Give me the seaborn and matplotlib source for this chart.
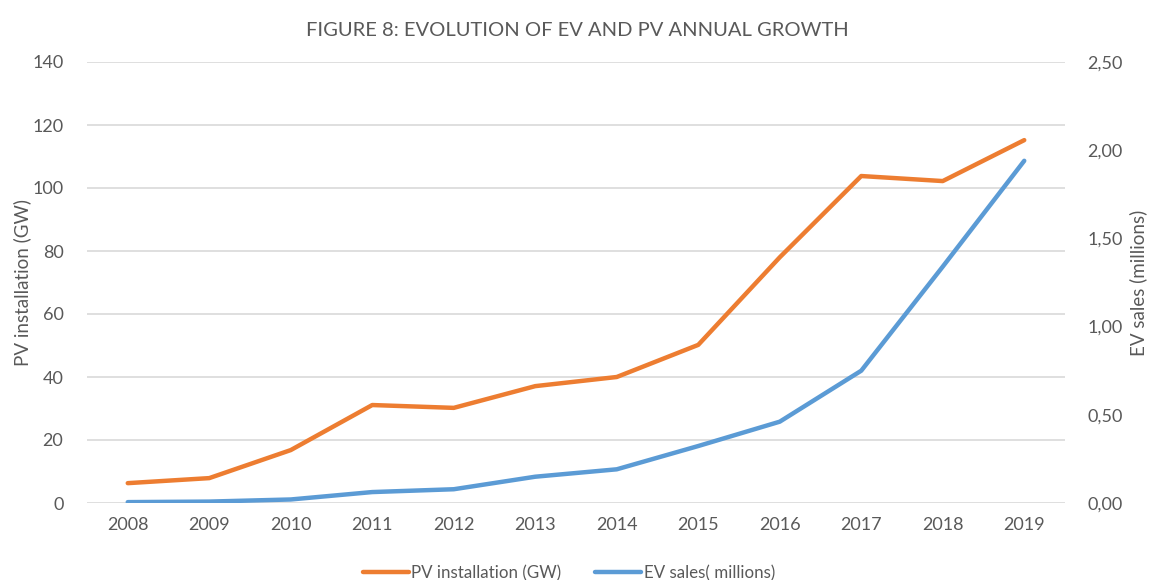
import matplotlib
matplotlib.use("Agg")
import matplotlib.pyplot as plt
from matplotlib.ticker import FuncFormatter, MultipleLocator
import seaborn as sns
import pandas as pd

years = ["2008", "2009", "2010", "2011", "2012", "2013",
         "2014", "2015", "2016", "2017", "2018", "2019"]
pv_gw = [6.3, 7.9, 16.8, 31.1, 30.2, 37.1, 40.0, 50.2, 78.0, 103.8, 102.2, 115.2]
ev_millions = [0.005, 0.008, 0.02, 0.062, 0.078, 0.149, 0.191, 0.323, 0.461, 0.75, 1.34, 1.94]

pv_label = "PV installation (GW)"
ev_label = "EV sales( millions)"
title = "FIGURE 8: EVOLUTION OF EV AND PV ANNUAL GROWTH"

ORANGE = "#ED7D31"
BLUE = "#5B9BD5"
TEXT = "#595959"
GRID = "#D9D9D9"

sns.set_style("white")
plt.rcParams["font.family"] = ["Lato", "DejaVu Sans"]

df = pd.DataFrame({"year": years, "pv": pv_gw, "ev": ev_millions})

fig = plt.figure(figsize=(11.52, 5.8), dpi=100)
ax = fig.add_axes([87 / 1152, 77 / 580, 978 / 1152, 441 / 580])
ax2 = ax.twinx()

sns.lineplot(data=df, x="year", y="pv", ax=ax, color=ORANGE, linewidth=3.2,
             sort=False, label=pv_label, legend=False)
sns.lineplot(data=df, x="year", y="ev", ax=ax2, color=BLUE, linewidth=3.2,
             sort=False, label=ev_label, legend=False)

ax.set_xlim(-0.5, len(years) - 0.5)
ax.set_ylim(0, 140)
ax.yaxis.set_major_locator(MultipleLocator(20))
ax2.set_ylim(0, 2.5)
ax2.yaxis.set_major_locator(MultipleLocator(0.5))
ax2.yaxis.set_major_formatter(FuncFormatter(lambda v, _: f"{v:.2f}".replace(".", ",")))

ax.grid(axis="y", color=GRID, linewidth=1.2)
ax.grid(axis="x", visible=False)
ax2.grid(False)
ax.set_axisbelow(True)

for a in (ax, ax2):
    for s in a.spines.values():
        s.set_visible(False)
    a.tick_params(length=0, colors=TEXT, labelsize=13)

ax.tick_params(axis="y", pad=17)
ax.tick_params(axis="x", pad=10)
ax2.tick_params(axis="y", pad=16)

ax.set_xlabel("")
ax.set_ylabel("PV installation (GW)", color=TEXT, fontsize=13.5, labelpad=1)
ax2.set_ylabel("EV sales (millions)", color=TEXT, fontsize=13.5, labelpad=5)

fig.suptitle(title, x=0.501, y=0.962, color=TEXT, fontsize=14.5, fontweight="normal")

handles = ax.get_lines()[:1] + ax2.get_lines()[:1]
fig.legend(handles, [pv_label, ev_label], loc="center", bbox_to_anchor=(0.494, 0.012),
           ncol=2, frameon=False, fontsize=12.2, labelcolor=TEXT,
           handlelength=2.7, handletextpad=0.15, columnspacing=2.0)

fig.savefig("out.png", dpi=100)
